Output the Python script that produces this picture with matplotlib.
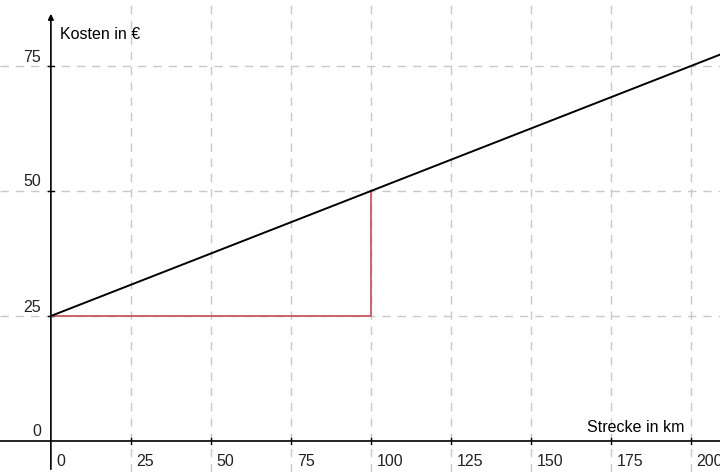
"""
cost line: Kosten in EUR vs Strecke in km, with slope triangle
outputs: out.png
"""

import matplotlib.pyplot as plt
import numpy as np

# -- DATA --
line_x = [0, 210]
line_y = [25, 77.5]
tri_x = [0, 100, 100]
tri_y = [25, 25, 50]
x_ticks = [0, 25, 50, 75, 100, 125, 150, 175, 200]
y_ticks = [0, 25, 50, 75]

GRID = "#c8c8c8"
RED = "#c45a5a"

# -- PLOT --
plt.rcParams["font.family"] = ["Liberation Sans", "DejaVu Sans"]
fig = plt.figure(figsize=(7.2, 4.72), dpi=100)
ax = fig.add_axes([0, 0, 1, 1])
ax.set_xlim(-15.9, 209.1)
ax.set_ylim(-6.2, 88.2)
ax.axis("off")

# grid
for gx in x_ticks[1:]:
    ax.axvline(gx, color=GRID, linestyle=(0, (6, 5)), linewidth=1, zorder=1)
for gy in y_ticks[1:]:
    ax.axhline(gy, color=GRID, linestyle=(0, (6, 5)), linewidth=1, zorder=1)

# axes with arrows
ax.axhline(0, color="black", linewidth=1.2, zorder=3)
ax.annotate("", xy=(0, 86), xytext=(0, -6.2),
            arrowprops=dict(arrowstyle="-|>", color="black", lw=1.2,
                            mutation_scale=8), zorder=3)

# ticks on axes
for gx in x_ticks[1:]:
    ax.plot([gx, gx], [-0.6, 0.6], color="black", linewidth=1, zorder=3)
for gy in y_ticks[1:]:
    ax.plot([-1, 1], [gy, gy], color="black", linewidth=1, zorder=3)

# tick labels
for gx in x_ticks:
    ax.text(gx + 1.8, -4.0, str(gx), ha="left", va="center", fontsize=11.5,
            color="#222222")
for gy in y_ticks:
    ax.text(-3.0, gy + 1.8, str(gy), ha="right", va="center", fontsize=11.5,
            color="#222222")

# axis labels
ax.text(3, 81.3, "Kosten in €", ha="left", va="center", fontsize=11.5)
ax.text(198, 2.8, "Strecke in km", ha="right", va="center", fontsize=11.5)

# slope triangle and line
ax.plot(tri_x, tri_y, color=RED, linewidth=1.3, zorder=4)
ax.plot(line_x, line_y, color="black", linewidth=1.4, zorder=5)

plt.savefig("out.png", dpi=100)
plt.close()
